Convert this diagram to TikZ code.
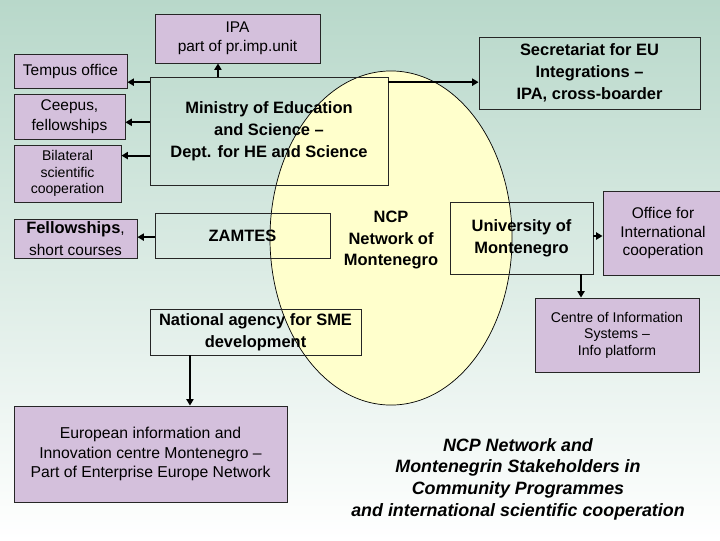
\documentclass[tikz,border=0pt]{standalone}
\usepackage{fontspec}
\setmainfont{Liberation Sans}
\usetikzlibrary{arrows.meta}
\definecolor{bgtop}{RGB}{184,216,202}
\definecolor{lilac}{RGB}{212,192,220}
\definecolor{cream}{RGB}{255,255,204}
\begin{document}
\begin{tikzpicture}[x=0.025cm,y=-0.025cm,
 box/.style={draw=black!85, line width=0.6pt, align=center, inner sep=0pt},
 lbox/.style={box, fill=lilac},
 reg/.style={font=\fontsize{11}{13.5}\selectfont},
 smalltxt/.style={font=\fontsize{10}{11.7}\selectfont},
 bld/.style={font=\fontsize{11.7}{15.6}\selectfont\bfseries},
 arr/.style={line width=1.4pt, -{Triangle[length=4.5pt,width=5pt]}}]

\useasboundingbox (0,0) rectangle (720,540);
\shade[top color=bgtop, bottom color=white] (0,0) rectangle (720,540);

\draw[fill=cream, line width=0.5pt] (391,238) ellipse [x radius=3.025cm, y radius=4.175cm];

% lilac boxes
\node[lbox, reg, minimum width=4.125cm, minimum height=1.225cm] (ipa) at (237.5,38.5) {IPA\\part of pr.imp.unit};
\node[lbox, reg, minimum width=2.825cm, minimum height=0.85cm] (tempus) at (70.5,71) {Tempus office};
\node[lbox, font=\fontsize{11}{14}\selectfont, minimum width=2.775cm, minimum height=1.125cm] (ceepus) at (69.5,116.5) {Ceepus,\\fellowships};
\node[lbox, smalltxt, minimum width=2.675cm, minimum height=1.425cm] (bilat) at (67.5,173.5) {Bilateral\\scientific\\cooperation};
\node[lbox, font=\fontsize{11}{15.6}\selectfont, minimum width=3.075cm, minimum height=0.975cm] (fellow) at (75.5,238.5) {{\bfseries\fontsize{11.7}{15.6}\selectfont Fellowships}, \\short courses};
\node[lbox, reg, minimum width=3cm, minimum height=2.1cm] (office) at (663,233) {Office for\\International\\cooperation};
\node[lbox, smalltxt, minimum width=4.1cm, minimum height=1.85cm] (centre) at (617,335) {Centre of Information\\Systems --\\Info platform};
\node[lbox, font=\fontsize{11.2}{13.8}\selectfont, minimum width=6.825cm, minimum height=2.4cm] (euro) at (150.5,454) {European information and\\Innovation centre Montenegro --\\Part of Enterprise Europe Network};

% transparent bold boxes
\node[box, bld, minimum width=5.95cm, minimum height=2.7cm] (ministry) at (269,131) {Ministry of Education\\and Science --\\Dept. for HE and Science};
\node[box, bld, minimum width=4.375cm, minimum height=1.125cm] (zamtes) at (242.5,235.5) {ZAMTES};
\node[box, bld, minimum width=5.525cm, minimum height=1.8cm] (secret) at (589.5,73) {Secretariat for EU\\Integrations --\\IPA, cross-boarder};
\node[box, bld, minimum width=3.575cm, minimum height=1.8cm] (univ) at (521.5,238) {University of\\Montenegro};
\node[box, bld, minimum width=5.275cm, minimum height=1.15cm] (natag) at (255.5,332) {National agency for SME\\development};
\node[bld, align=center, inner sep=0pt] (ncp) at (391,240) {NCP\\Network of\\Montenegro};

\node[align=center, inner sep=0pt, font=\fontsize{12.7}{15.4}\selectfont\bfseries\itshape] (title) at (518,479)
 {NCP Network and\\Montenegrin Stakeholders in\\Community Programmes\\and international scientific cooperation};

% connectors
\coordinate (mI) at ([xshift=-1.275cm]ministry.north);
\draw[arr] (mI) -- (mI |- ipa.south);
\coordinate (mT) at ([yshift=-0.14cm]ministry.north west);
\draw[arr] (mT) -- (mT -| tempus.east);
\coordinate (mC) at ([yshift=-1.1425cm]ministry.north west);
\draw[arr] (mC) -- (mC -| ceepus.east);
\coordinate (mB) at ([yshift=-1.975cm]ministry.north west);
\draw[arr] (mB) -- (mB -| bilat.east);
\coordinate (mS) at ([yshift=-0.14cm]ministry.north east);
\draw[arr] (mS) -- (mS -| secret.west);
\coordinate (zF) at ([yshift=-0.04cm]zamtes.west);
\draw[arr] (zF) -- (zF -| fellow.east);
\coordinate (uO) at ([yshift=0.05cm]univ.east);
\draw[arr] (uO) -- (uO -| office.west);
\coordinate (uC) at ([xshift=1.4875cm]univ.south);
\draw[arr] (uC) -- (uC |- centre.north);
\coordinate (nE) at ([xshift=-1.6375cm]natag.south);
\draw[arr] (nE) -- (nE |- euro.north);
\end{tikzpicture}
\end{document}
